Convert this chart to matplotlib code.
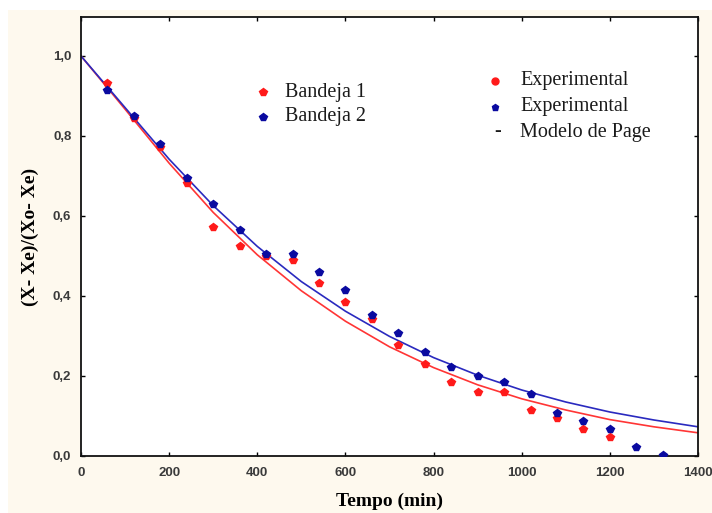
import matplotlib
matplotlib.use("Agg")
import matplotlib.pyplot as plt
from matplotlib.patches import Rectangle

# Experimental data
tempo_exp = [60, 120, 180, 240, 300, 360, 420, 480, 540, 600, 660, 720, 780, 840, 900, 960, 1020, 1080, 1140, 1200, 1260, 1320]
mr_bandeja1 = [0.932, 0.845, 0.772, 0.682, 0.572, 0.525, 0.500, 0.490, 0.433, 0.385, 0.342, 0.277, 0.230, 0.186, 0.159, 0.159, 0.115, 0.094, 0.068, 0.048, None, None]
mr_bandeja2 = [0.915, 0.850, 0.780, 0.695, 0.630, 0.565, 0.505, 0.505, 0.460, 0.415, 0.352, 0.307, 0.261, 0.222, 0.200, 0.186, 0.155, 0.108, 0.088, 0.068, 0.023, 0.003]

# Page model curves
tempo_modelo = [0, 100, 200, 300, 400, 500, 600, 700, 800, 900, 1000, 1100, 1200, 1300, 1400]
modelo_bandeja1 = [1.0, 0.867, 0.732, 0.609, 0.503, 0.413, 0.337, 0.273, 0.221, 0.178, 0.143, 0.115, 0.091, 0.073, 0.058]
modelo_bandeja2 = [1.0, 0.871, 0.742, 0.626, 0.524, 0.436, 0.362, 0.299, 0.246, 0.202, 0.165, 0.135, 0.110, 0.090, 0.073]

x_ticks = [0, 200, 400, 600, 800, 1000, 1200, 1400]
y_ticks = [0.0, 0.2, 0.4, 0.6, 0.8, 1.0]
y_ticklabels = ["0,0", "0,2", "0,4", "0,6", "0,8", "1,0"]

RED = "#FF1A1A"
BLUE = "#0A0AA0"
RED_LINE = "#FF3535"
BLUE_LINE = "#2A2ABF"
CREAM = "#FEF9EE"

fig = plt.figure(figsize=(7.12, 5.13), dpi=100, facecolor="white")
fig.patches.append(Rectangle((8/712, 0), 1, 1 - 10/513, transform=fig.transFigure,
                             facecolor=CREAM, edgecolor="none", zorder=-10))
ax = fig.add_axes([81/712, 57/513, 617/712, 439/513])
ax.set_facecolor("white")

ax.plot(tempo_modelo, modelo_bandeja1, color=RED_LINE, lw=1.2, zorder=2)
ax.plot(tempo_modelo, modelo_bandeja2, color=BLUE_LINE, lw=1.2, zorder=2)

t1 = [t for t, v in zip(tempo_exp, mr_bandeja1) if v is not None]
v1 = [v for v in mr_bandeja1 if v is not None]
ax.plot(t1, v1, linestyle="none", marker="p", ms=5.5, color=RED, mec=RED, zorder=3)
ax.plot(tempo_exp, mr_bandeja2, linestyle="none", marker="p", ms=5.5, color=BLUE, mec=BLUE, zorder=4)

ax.set_xlim(0, 1400)
ax.set_ylim(0, 1.0975)
ax.set_xticks(x_ticks)
ax.set_yticks(y_ticks)
ax.set_yticklabels(y_ticklabels)
ax.tick_params(direction="in", length=3, width=1, top=True, right=True,
               labelsize=9.5, labelcolor="#3a3a3a")
ax.tick_params(axis="x", pad=8)
ax.tick_params(axis="y", pad=7)
for lab in ax.get_xticklabels() + ax.get_yticklabels():
    lab.set_fontfamily("Liberation Sans")
    lab.set_fontweight("bold")
for side in ["left", "bottom", "right", "top"]:
    ax.spines[side].set_linewidth(1.3)
    ax.spines[side].set_color("#111111")

ax.set_xlabel("Tempo (min)", fontfamily="Liberation Serif", fontweight="bold", fontsize=14, labelpad=10)
ax.set_ylabel("(X- Xe)/(Xo- Xe)", fontfamily="Liberation Serif", fontweight="bold", fontsize=14, labelpad=10)

serif = dict(fontfamily="Liberation Serif", fontsize=14.5, color="#1a1a1a", va="center")

def fig_to_axes(xp, yp):
    return ((xp - 81) / 617, (513 - 57 - yp) / 439)

x, y = fig_to_axes(263, 92)
ax.plot([x], [y], transform=ax.transAxes, marker="p", ms=5.5, color=RED, linestyle="none", clip_on=False)
x, y = fig_to_axes(263, 117)
ax.plot([x], [y], transform=ax.transAxes, marker="p", ms=5.5, color=BLUE, linestyle="none", clip_on=False)
ax.text(*fig_to_axes(285, 92), "Bandeja 1", transform=ax.transAxes, **serif)
ax.text(*fig_to_axes(285, 117), "Bandeja 2", transform=ax.transAxes, **serif)

x, y = fig_to_axes(495, 81)
ax.plot([x], [y], transform=ax.transAxes, marker="o", ms=5, color=RED, linestyle="none", clip_on=False)
x, y = fig_to_axes(495, 107)
ax.plot([x], [y], transform=ax.transAxes, marker="p", ms=5, color=BLUE, linestyle="none", clip_on=False)
ax.text(*fig_to_axes(520, 81), "Experimental", transform=ax.transAxes, **serif)
ax.text(*fig_to_axes(520, 106), "Experimental", transform=ax.transAxes, **serif)
ax.text(*fig_to_axes(494, 132), "-", transform=ax.transAxes, **serif)
ax.text(*fig_to_axes(520, 132), "Modelo de Page", transform=ax.transAxes, **serif)

fig.savefig("out.png", dpi=100, facecolor=fig.get_facecolor())
